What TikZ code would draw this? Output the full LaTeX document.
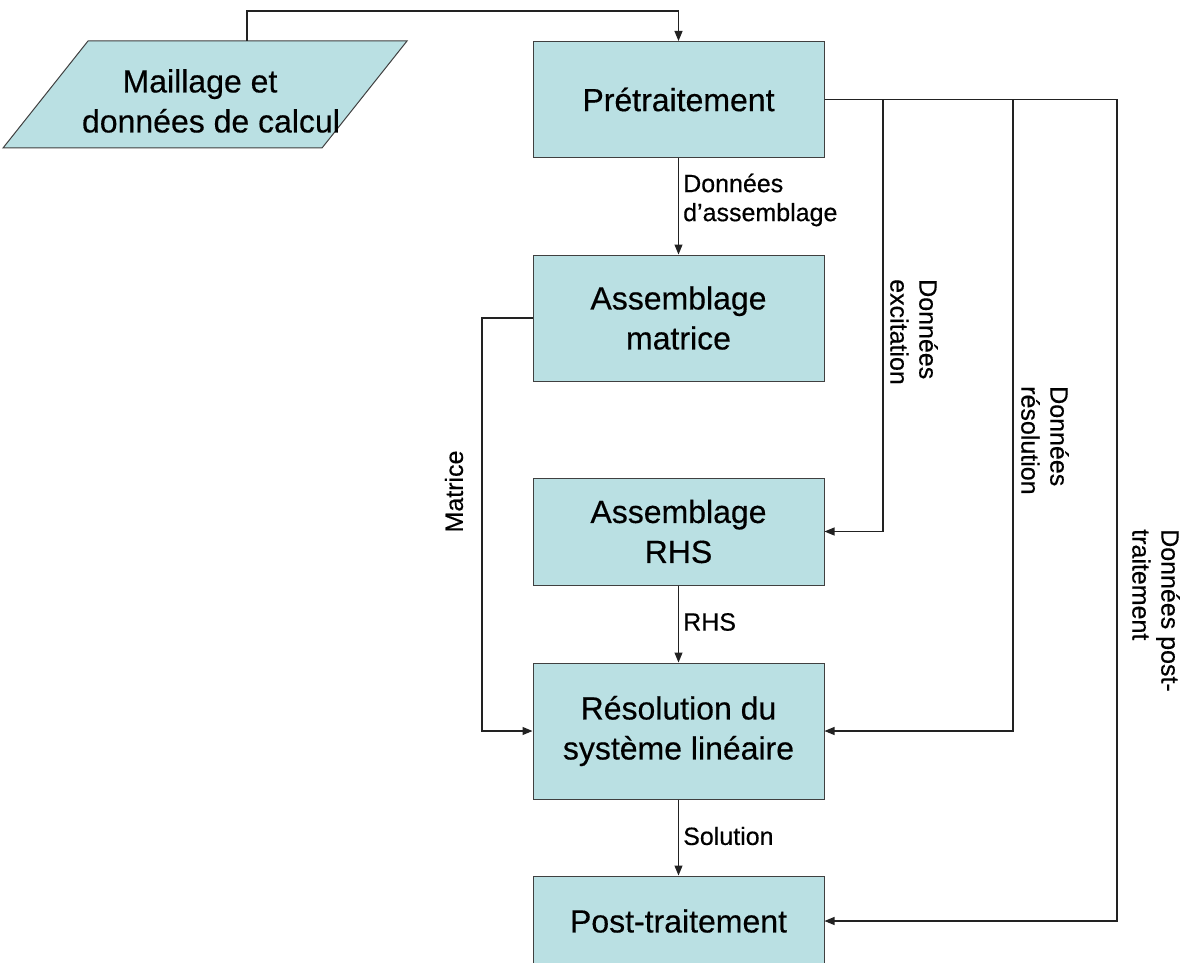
\documentclass[tikz,border=0pt]{standalone}
\usepackage{fontspec}
\setmainfont[FakeBold=0.4]{Liberation Sans}
\usetikzlibrary{arrows.meta,calc}
\definecolor{boxfill}{HTML}{BAE0E3}
\definecolor{boxline}{HTML}{404040}
\definecolor{wire}{HTML}{222222}
\begin{document}
\begin{tikzpicture}[x=1pt,y=-1pt,
  box/.style={draw=boxline, fill=boxfill, line width=1pt, minimum width=291pt, inner sep=0pt, align=center, font=\fontsize{32}{40}\selectfont},
  boxtext/.style={inner sep=0pt, align=center, font=\fontsize{32}{40}\selectfont},
  lbl/.style={font=\fontsize{25}{29}\selectfont, inner sep=0pt, align=left},
  conn/.style={draw=wire, line width=1.1pt},
  arr/.style={conn, -{Triangle[length=10pt,width=8pt]}}]
\useasboundingbox (0,0) rectangle (1197,963);
\clip (0,0) rectangle (1197,963);

% input parallelogram
\draw[draw=boxline, fill=boxfill, line width=1pt] (88,41) -- (407,41) -- (322,148) -- (3,148) -- cycle;
\node[boxtext] (inp) at (211,101) {Maillage et\kern 22pt\\données de calcul};

% process boxes
\node[box, minimum height=116pt] (pre) at (678.5,99.5) {Prétraitement};
\node[box, minimum height=126pt] (am) at (678.5,318) {Assemblage\\matrice};
\node[box, minimum height=107pt] (rhs) at (678.5,531.5) {Assemblage\\RHS};
\node[box, minimum height=136pt] (res) at (678.5,731) {Résolution du\\système linéaire};
\node[box, minimum height=90pt] (post) at (678.5,921) {Post-traitement};

% connector points
\coordinate (inptop) at (247,41);
\coordinate (topbend) at (247,11);
\coordinate (mbend) at (482,318);
\coordinate (exTop) at (883,99.5);
\coordinate (rsTop) at (1013,99.5);
\coordinate (ptTop) at (1117,99.5);

% connectors
\draw[arr] (inptop) -- (topbend) -| (pre.north);
\draw[arr] (pre.south) -- (am.north);
\draw[arr] (rhs.south) -- (res.north);
\draw[arr] (res.south) -- (post.north);
\draw[arr] (am.west) -- (mbend) |- (res.west);
\draw[arr] (pre.east) -- (ptTop) |- (post.east);
\draw[arr] (exTop) |- (rhs.east);
\draw[arr] (rsTop) |- (res.east);

% labels
\node[lbl, anchor=west] (l1) at (683,200) {Données\\d’assemblage};
\node[lbl, anchor=west] (l2) at (683,622) {RHS};
\node[lbl, anchor=west] (l3) at (683,836) {Solution};
\node[lbl, rotate=90] (l4) at (454,491.5) {Matrice};
\node[lbl, rotate=-90, anchor=west] (l5) at (914,279) {Données\\excitation};
\node[lbl, rotate=-90, anchor=west] (l6) at (1045,386) {Données\\résolution};
\node[lbl, rotate=-90, anchor=west] (l7) at (1156,529) {Données post-\\traitement};
\end{tikzpicture}
\end{document}
